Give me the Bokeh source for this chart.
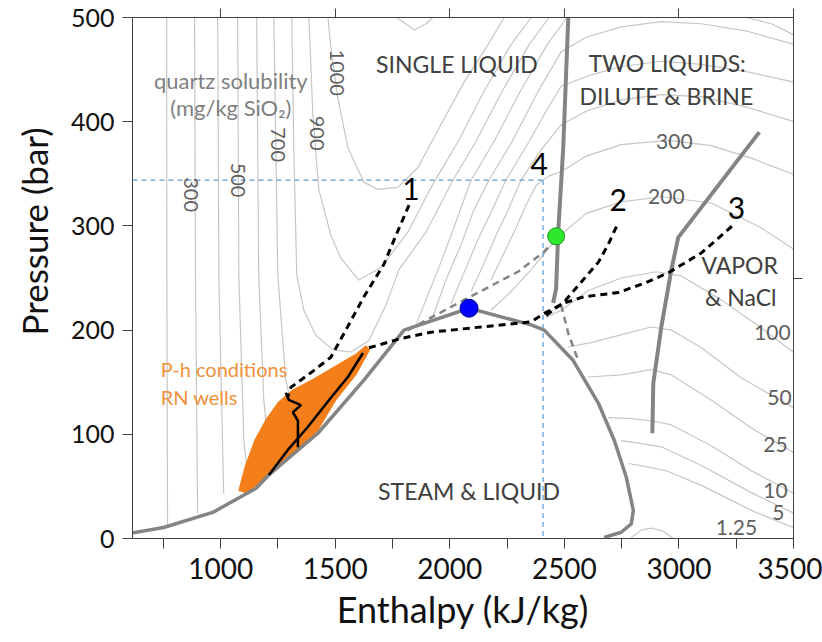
from bokeh.plotting import figure
from bokeh.models import Range1d, LinearAxis, FixedTicker, ColumnDataSource, Title
from bokeh.core.properties import value
from bokeh.embed import file_html
from bokeh.resources import INLINE

FONT = "Lato"

# ---------------- data (enthalpy kJ/kg, pressure bar) ----------------
# quartz solubility isolines (mg/kg SiO2)
q200_left = [(764, 500), (765, 250), (768, 11)]
q300_left = [(886, 500), (890, 250), (899, 24)]
q400_left = [(987, 500), (992, 250), (1013, 43)]
q500_left = [(1074, 500), (1079, 253), (1101, 94), (1122, 51)]
q600_left = [(1157, 500), (1166, 253), (1188, 133), (1219, 65)]
q700_left = [(1232, 500), (1249, 253), (1284, 152), (1350, 89)]
q800 = [(1310, 500), (1319, 373), (1332, 253), (1363, 219), (1415, 195), (1490, 181), (1568, 179),
        (1647, 190), (1721, 224), (1778, 258), (1896, 294), (2014, 344), (2114, 381), (2228, 429),
        (2346, 474), (2433, 500)]
q900 = [(1385, 500), (1402, 407), (1428, 335), (1481, 291), (1524, 269), (1603, 248), (1699, 260),
        (1817, 294), (1918, 337), (2036, 381), (2149, 429), (2267, 474), (2355, 500)]
q1000 = [(1468, 500), (1481, 471), (1511, 423), (1555, 375), (1625, 342), (1686, 335), (1773, 337),
         (1861, 356), (1961, 397), (2062, 438), (2167, 474), (2237, 500)]
q1100 = [(1765, 500), (1796, 496), (1844, 488), (1896, 494), (1926, 500)]
q700_right = [(1852, 205), (1896, 229), (1961, 265), (2014, 296), (2093, 344), (2193, 381),
              (2307, 429), (2425, 474), (2512, 500)]
q700_top = [(3295, 500), (3404, 494), (3504, 483)]
q600_right = [(1927, 214), (1983, 248), (2049, 282), (2101, 313), (2171, 344), (2272, 381),
              (2385, 429), (2486, 467), (2595, 481), (2748, 491), (2923, 496), (3098, 494),
              (3295, 487), (3504, 474)]
q500_right = [(2005, 225), (2058, 253), (2123, 287), (2180, 313), (2245, 344), (2346, 381),
              (2420, 410), (2486, 434), (2617, 445), (2748, 453), (2923, 458), (3098, 455),
              (3295, 448), (3504, 438)]
q400_right = [(2093, 237), (2145, 262), (2202, 291), (2254, 315), (2311, 344), (2398, 373),
              (2486, 397), (2595, 410), (2748, 421), (2923, 426), (3098, 424), (3295, 414),
              (3504, 400)]
q300_right = [(2180, 248), (2232, 272), (2289, 298), (2333, 320), (2377, 339), (2433, 348),
              (2486, 352), (2595, 367), (2748, 378), (2953, 382), (3141, 377), (3316, 365),
              (3504, 349)]
q200_right = [(2180, 219), (2267, 237), (2355, 258), (2433, 279), (2477, 290), (2595, 312),
              (2748, 323), (2923, 328), (3141, 322), (3360, 298), (3504, 277)]
q100 = [(2420, 212), (2486, 219), (2604, 238), (2748, 250), (2901, 256), (3010, 252), (3185, 229),
        (3360, 202), (3504, 178)]
q50 = [(2517, 184), (2617, 188), (2704, 193), (2879, 203), (2967, 200), (3098, 183), (3273, 154),
       (3504, 125)]
q25 = [(2604, 155), (2748, 157), (2879, 162), (2967, 157), (3141, 133), (3316, 106), (3504, 82)]
q10 = [(2691, 116), (2792, 115), (2879, 113), (2967, 109), (3141, 89), (3316, 65), (3504, 43)]
q5 = [(2748, 94), (2835, 91), (2923, 88), (3098, 70), (3316, 44), (3504, 24)]
q1_25 = [(2779, 72), (2857, 69), (2945, 65), (3098, 51), (3316, 27), (3504, 10)]
q1_25_low = [(2792, 1), (2835, 8), (2879, 10), (2932, 7), (2975, 0)]

# boiling curve / two-phase dome
dome = [(607, 5), (751, 10.6), (965, 25), (1153, 48), (1210, 61), (1424, 101), (1625, 152),
        (1800, 200), (2084, 221), (2355, 205), (2412, 200), (2538, 171), (2648, 130), (2718, 94),
        (2770, 59), (2801, 27), (2792, 14), (2748, 6), (2674, 1)]
# halite / two-liquid boundaries
boundary_a = [(2517, 500), (2495, 375), (2473, 294), (2464, 240), (2451, 226)]
boundary_b = [(3351, 390), (2997, 289), (2967, 258), (2923, 203), (2888, 149), (2884, 101)]

# P-h conditions of RN wells
wells_zone = [(1079, 46), (1108, 70), (1150, 95), (1200, 115), (1252, 131), (1310, 142),
              (1405, 153), (1505, 166), (1590, 177), (1634, 185), (1650, 181), (1590, 157),
              (1503, 133), (1424, 104), (1328, 83), (1240, 65), (1166, 52), (1109, 44)]
well_main = [(1210, 61), (1293, 85), (1380, 107), (1481, 135), (1555, 155), (1621, 178)]
well_squiggle = [(1337, 87.5), (1337, 113), (1315, 121), (1350, 128), (1297, 133), (1284, 140)]

# paths 1-3 (black dashed) and gray dashed
path1 = [(1822, 320), (1765, 291), (1712, 263), (1625, 232), (1546, 200), (1481, 174),
         (1393, 159), (1306, 145), (1293, 136)]
path2 = [(2420, 214), (2499, 227), (2573, 246), (2648, 265), (2691, 282), (2735, 303)]
path3 = [(1647, 183), (1787, 192), (1918, 198), (2136, 203), (2355, 208), (2412, 216),
         (2499, 226), (2586, 232), (2735, 236), (2849, 245), (2953, 255), (3098, 274), (3238, 301)]
gray_dash_a = [(1817, 200), (2062, 229), (2298, 256), (2411, 275), (2451, 285)]
gray_dash_b = [(2486, 224), (2517, 197), (2560, 171)]

# case 4 reference lines
case4_h = 2407
case4_p = 344

critical_point = (2084, 221)
green_point = (2464, 290)

# axis ticks
x_major = [1000, 1500, 2000, 2500, 3000, 3500]
x_minor = [750, 1250, 1750, 2250, 2750, 3250]
y_major = [0, 100, 200, 300, 400, 500]
right_ticks = [250]

# ---------------- figure ----------------
p = figure(width=822, height=642, x_range=Range1d(615, 3500), y_range=Range1d(0, 500),
           output_backend="svg", toolbar_location=None,
           min_border_left=132, min_border_right=29, min_border_top=17, min_border_bottom=104)
p.xgrid.visible = False
p.ygrid.visible = False
p.outline_line_color = None
p.background_fill_color = "white"
p.border_fill_color = "white"

AX = "#404040"
xa = p.xaxis[0]
xa.ticker = FixedTicker(ticks=x_major, minor_ticks=x_minor)
ya = p.yaxis[0]
ya.ticker = FixedTicker(ticks=y_major)
for ax in (xa, ya):
    ax.axis_line_color = AX
    ax.major_tick_line_color = AX
    ax.major_tick_out = 10
    ax.major_tick_in = 0
    ax.minor_tick_line_color = AX
    ax.minor_tick_out = 10
    ax.minor_tick_in = 0
    ax.major_label_text_font = FONT
    ax.major_label_text_color = "#111111"
    ax.axis_label_text_font = FONT
    ax.axis_label_text_font_style = "normal"
    ax.axis_label_text_color = "#111111"
xa.major_label_text_font_size = "28px"
ya.major_label_text_font_size = "25px"
xa.axis_label_text_font_size = "36px"
xa.axis_label = "Enthalpy (kJ/kg)"
xa.major_label_standoff = 9
xa.axis_label_standoff = 5
ya.major_label_standoff = 8

top = LinearAxis(ticker=FixedTicker(ticks=[], minor_ticks=x_major))
right = LinearAxis(ticker=FixedTicker(ticks=[], minor_ticks=right_ticks))
for ax in (top, right):
    ax.axis_line_color = AX
    ax.major_tick_line_color = None
    ax.minor_tick_line_color = AX
    ax.minor_tick_out = 9
    ax.minor_tick_in = 0
    ax.major_label_standoff = 0
p.add_layout(top, "above")
p.add_layout(right, "right")

# y-axis title, shifted above the frame centre as in the original
ytitle = Title(text="Pressure (bar)", align="left", offset=203, vertical_align="top",
               text_font=FONT, text_font_size="35px", text_font_style="normal",
               text_color="#111111", standoff=21)
p.add_layout(ytitle, "left")

def xs(c):
    return [a for a, b in c]

def ys(c):
    return [b for a, b in c]

# contours
contours = [q200_left, q300_left, q400_left, q500_left, q600_left, q700_left, q800, q900, q1000,
            q1100, q700_right, q700_top, q600_right, q500_right, q400_right, q300_right,
            q200_right, q100, q50, q25, q10, q5, q1_25, q1_25_low]
p.multi_line(xs=[xs(c) for c in contours], ys=[ys(c) for c in contours],
             line_color="#c6c6c6", line_width=1.2)

# blue dashed guide lines for case 4
p.line([615, case4_h], [case4_p, case4_p], line_color="#5b9bd5", line_width=1.2, line_dash="5 4")
p.line([case4_h, case4_h], [case4_p, 0], line_color="#5b9bd5", line_width=1.2, line_dash="5 4")

# wells zone
p.patch(xs(wells_zone), ys(wells_zone), fill_color="#f47f1a", line_color="#f47f1a", line_width=1)

# phase boundaries
GR = "#848484"
p.line(xs(dome), ys(dome), line_color=GR, line_width=3.5)
p.line(xs(boundary_a), ys(boundary_a), line_color=GR, line_width=4)
p.line(xs(boundary_b), ys(boundary_b), line_color=GR, line_width=4)

# gray dashed
for c in (gray_dash_a, gray_dash_b):
    p.line(xs(c), ys(c), line_color=GR, line_width=2.5, line_dash="7 5")

# black dashed paths
for c in (path1, path2, path3):
    p.line(xs(c), ys(c), line_color="#000000", line_width=3, line_dash="7 5")

# wells lines
p.line(xs(well_main), ys(well_main), line_color="#000000", line_width=2.5)
p.line(xs(well_squiggle), ys(well_squiggle), line_color="#000000", line_width=2.5)

# points
p.scatter([critical_point[0]], [critical_point[1]], size=18, fill_color="#0000ff",
          line_color="#00008b", line_width=1)
p.scatter([green_point[0]], [green_point[1]], size=17, fill_color="#2ee82e",
          line_color="#1a9a1a", line_width=1)

# ---------------- texts ----------------
def texts(h, pr, t, size, color, angle=0.0, align="center", baseline="middle"):
    src = ColumnDataSource(dict(x=h, y=pr, t=t))
    p.text(x="x", y="y", text="t", source=src, text_font=value(FONT), text_font_size=size,
           text_color=color, angle=angle, text_align=align, text_baseline=baseline)

region_names = ["SINGLE LIQUID", "TWO LIQUIDS:", "DILUTE & BRINE", "VAPOR", "& NaCl", "STEAM & LIQUID"]
region_h = [2031, 2949, 2945, 3265, 3270, 2084]
region_p = [455, 456, 425, 262, 232, 46]
texts(region_h, region_p, region_names, "23px", "#404040")

texts([1044, 1044], [440, 414], ["quartz solubility", "(mg/kg SiO₂)"], "22px", "#7f7f7f")
texts([738, 738], [163, 136], ["P-h conditions", "RN wells"], "20px", "#f0913a", align="left")

rot_labels = ["1000", "900", "700", "500", "300"]
rot_h = [1507, 1420, 1249, 1074, 869]
rot_p = [447, 389, 378, 344, 330]
texts(rot_h, rot_p, rot_labels, "20px", "#5f5f5f", angle=-1.5708)

iso_labels = ["300", "200", "100", "50", "25", "10", "5", "1.25"]
iso_h = [2980, 2945, 3408, 3439, 3421, 3421, 3434, 3251]
iso_p = [381, 328, 198, 135, 90, 46, 25, 10.5]
texts(iso_h, iso_p, iso_labels, "21px", "#5f5f5f")

case_labels = ["1", "2", "3", "4"]
case_h = [1830, 2735, 3251, 2390]
case_p = [335, 325, 317, 359]
texts(case_h, case_p, case_labels, "30px", "#000000")

open("out.html", "w").write(file_html(p, INLINE))
